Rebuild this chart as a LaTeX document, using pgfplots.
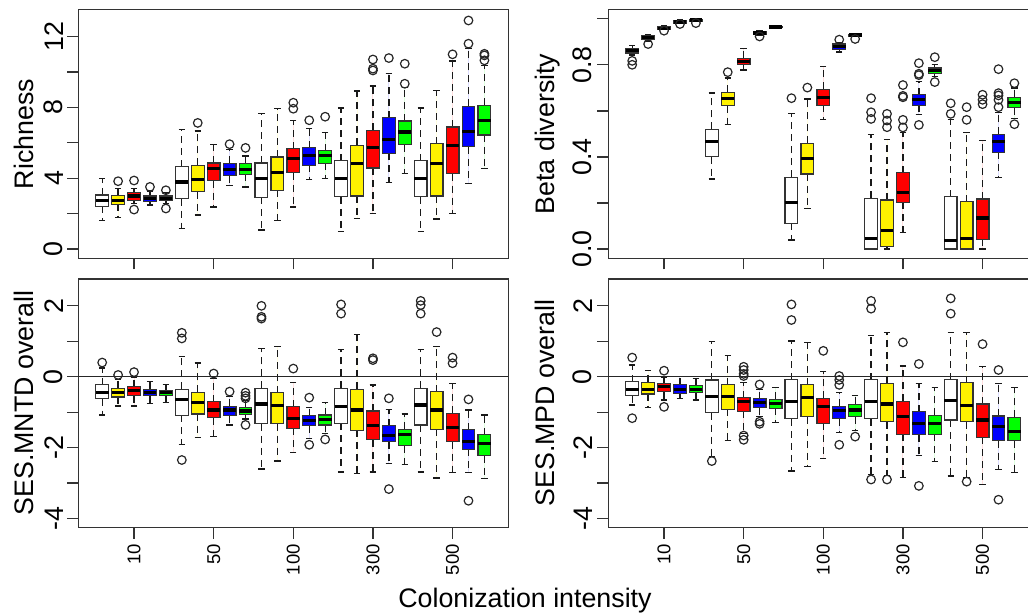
\documentclass[border=0pt]{standalone}
\usepackage{fontspec}
\setmainfont{Liberation Sans}
\usepackage{pgfplots}
\pgfplotsset{compat=1.18}
\usepgfplotslibrary{statistics}
\newcommand{\tlf}{\fontsize{18.5}{20}\selectfont}
\newcommand{\ylf}{\fontsize{26.8}{30}\selectfont}
\newcommand{\bx}[8]{\addplot[fill=#2, boxplot prepared={draw position=#1, lower whisker=#3, lower quartile=#4, median=#5, upper quartile=#6, upper whisker=#7}] coordinates {#8};}
\newcommand{\ylab}[3]{\node[rotate=90, anchor=south, inner sep=0pt, font=\ylf] at ([xshift=-#1]axis cs:-0.5,#2) {#3};}
\newcommand{\xlab}[3]{\node[rotate=90, anchor=east, inner sep=0pt, font=\tlf] at ([yshift=-16.3pt]axis cs:#1,#2) {#3};}
\pgfplotsset{
  panel/.style={
    scale only axis, width=430pt, height=248.8pt, anchor=south west,
    xmin=-0.5, xmax=26.5,
    axis line style={line width=1.3pt, black!80},
    tick style={line width=1.3pt, black!80},
    tick align=outside, major tick length=11pt,
    xtick={3,8,13,18,23}, xtick pos=left, ytick pos=left,
    xticklabels={}, yticklabels={},
    boxplot/draw direction=y,
    boxplot/box extend=0.8,
    boxplot/whisker extend=0.4,
    boxplot/every whisker/.style={draw=black!90, line width=1.3pt, dash pattern=on 7pt off 5pt},
    boxplot/every median/.style={draw=black, line width=3.2pt, solid},
    every axis plot/.append style={draw=black!80, line width=1.2pt, mark=o, mark size=4.3pt, mark options={solid, fill=none, draw=black!85, line width=1.2pt}},
    clip=false,
  },
}
\begin{document}
\begin{tikzpicture}
% ---------- Richness ----------
\begin{axis}[panel, at={(78.3pt,355.7pt)}, ymin=-0.52, ymax=13.52, ytick={0,2,...,12}]
\bx{1}{white}{1.6}{2.42}{2.74}{3.05}{4.0}{}
\bx{2}{yellow}{1.78}{2.52}{2.76}{3.02}{3.42}{(0,3.83)}
\bx{3}{red}{2.57}{2.76}{3.0}{3.19}{3.42}{(0,3.87) (0,2.23)}
\bx{4}{blue}{2.48}{2.7}{2.85}{2.99}{3.27}{(0,3.51)}
\bx{5}{green}{2.57}{2.72}{2.85}{2.99}{3.19}{(0,3.32) (0,2.29)}
\bx{6}{white}{1.16}{2.85}{3.79}{4.64}{6.74}{}
\bx{7}{yellow}{1.92}{3.23}{3.94}{4.73}{6.67}{(0,7.12)}
\bx{8}{red}{2.38}{3.87}{4.54}{4.86}{5.9}{}
\bx{9}{blue}{3.57}{4.13}{4.49}{4.83}{5.63}{(0,5.92)}
\bx{10}{green}{3.51}{4.23}{4.51}{4.83}{5.26}{(0,5.71)}
\bx{11}{white}{1.07}{2.93}{3.98}{4.86}{7.64}{}
\bx{12}{yellow}{1.63}{3.31}{4.32}{5.2}{7.92}{}
\bx{13}{red}{2.38}{4.3}{5.09}{5.67}{7.27}{(0,8.26) (0,7.92)}
\bx{14}{blue}{3.94}{4.73}{5.28}{5.71}{6.8}{(0,7.27)}
\bx{15}{green}{3.98}{4.85}{5.26}{5.56}{6.57}{(0,7.47)}
\bx{16}{white}{1.01}{2.95}{3.98}{4.98}{7.96}{}
\bx{17}{yellow}{1.73}{3.0}{4.83}{5.86}{8.92}{}
\bx{18}{red}{2.01}{4.58}{5.71}{6.7}{9.2}{(0,10.7) (0,10.18) (0,10.08)}
\bx{19}{blue}{3.74}{5.41}{6.2}{7.42}{9.9}{(0,10.78)}
\bx{20}{green}{4.26}{5.88}{6.61}{7.23}{9.11}{(0,10.46) (0,9.33)}
\bx{21}{white}{1.01}{2.95}{3.98}{4.98}{7.96}{}
\bx{22}{yellow}{1.69}{3.0}{4.83}{5.95}{8.96}{}
\bx{23}{red}{2.01}{4.26}{5.86}{6.89}{10.61}{(0,10.99)}
\bx{24}{blue}{3.7}{5.77}{6.65}{8.06}{11.3}{(0,12.9) (0,11.59)}
\bx{25}{green}{4.54}{6.44}{7.27}{8.11}{10.37}{(0,11.02) (0,10.93) (0,10.65)}
\ylab{15pt}{0}{0}\ylab{15pt}{4}{4}\ylab{15pt}{8}{8}\ylab{15pt}{12}{12}
\end{axis}
% ---------- Beta diversity ----------
\begin{axis}[panel, at={(608.3pt,355.7pt)}, ymin=-0.04, ymax=1.04, ytick={0,0.2,0.4,0.6,0.8,1.0}]
\bx{1}{white}{0.843}{0.851}{0.861}{0.870}{0.884}{(0,0.817) (0,0.80)}
\bx{2}{yellow}{0.903}{0.909}{0.917}{0.926}{0.932}{(0,0.89)}
\bx{3}{red}{0.952}{0.954}{0.959}{0.967}{0.970}{(0,0.948)}
\bx{4}{blue}{0.979}{0.981}{0.986}{0.991}{0.994}{(0,0.977)}
\bx{5}{green}{0.988}{0.99}{0.994}{0.998}{1.0}{(0,0.981)}
\bx{6}{white}{0.304}{0.401}{0.467}{0.52}{0.677}{}
\bx{7}{yellow}{0.542}{0.623}{0.652}{0.68}{0.742}{(0,0.768)}
\bx{8}{red}{0.778}{0.8}{0.814}{0.828}{0.87}{}
\bx{9}{blue}{0.929}{0.931}{0.938}{0.945}{0.948}{(0,0.923)}
\bx{10}{green}{0.962}{0.962}{0.964}{0.966}{0.966}{}
\bx{11}{white}{0.039}{0.112}{0.203}{0.312}{0.59}{(0,0.655)}
\bx{12}{yellow}{0.177}{0.326}{0.393}{0.459}{0.651}{(0,0.701)}
\bx{13}{red}{0.564}{0.625}{0.659}{0.694}{0.793}{}
\bx{14}{blue}{0.855}{0.868}{0.88}{0.89}{0.895}{(0,0.909)}
\bx{15}{green}{0.922}{0.925}{0.929}{0.933}{0.935}{(0,0.912)}
\bx{16}{white}{0}{0}{0.046}{0.22}{0.496}{(0,0.655) (0,0.594) (0,0.565)}
\bx{17}{yellow}{0}{0.01}{0.08}{0.213}{0.477}{(0,0.587) (0,0.558) (0,0.529)}
\bx{18}{red}{0.072}{0.203}{0.246}{0.332}{0.506}{(0,0.712) (0,0.665) (0,0.659) (0,0.561) (0,0.528)}
\bx{19}{blue}{0.583}{0.625}{0.648}{0.67}{0.728}{(0,0.807) (0,0.761) (0,0.755) (0,0.539)}
\bx{20}{green}{0.749}{0.761}{0.774}{0.786}{0.8}{(0,0.833) (0,0.725)}
\bx{21}{white}{0}{0}{0.036}{0.228}{0.564}{(0,0.633) (0,0.587)}
\bx{22}{yellow}{0}{0}{0.045}{0.206}{0.506}{(0,0.616) (0,0.561)}
\bx{23}{red}{0}{0.042}{0.135}{0.217}{0.471}{(0,0.67) (0,0.648) (0,0.629)}
\bx{24}{blue}{0.312}{0.42}{0.467}{0.499}{0.593}{(0,0.781) (0,0.677) (0,0.667) (0,0.648) (0,0.616)}
\bx{25}{green}{0.568}{0.614}{0.636}{0.658}{0.699}{(0,0.72) (0,0.542)}
\ylab{16pt}{0}{0.0}\ylab{16pt}{0.4}{0.4}\ylab{16pt}{0.8}{0.8}
\end{axis}
% ---------- SES.MNTD ----------
\begin{axis}[panel, at={(78.3pt,86.3pt)}, ymin=-4.26, ymax=2.76, ytick={-4,-3,...,2}]
\bx{1}{white}{-1.08}{-0.62}{-0.44}{-0.23}{0.25}{(0,0.40)}
\bx{2}{yellow}{-0.83}{-0.57}{-0.45}{-0.33}{-0.08}{(0,0.05)}
\bx{3}{red}{-0.83}{-0.53}{-0.38}{-0.28}{-0.02}{(0,0.13)}
\bx{4}{blue}{-0.75}{-0.54}{-0.45}{-0.36}{-0.14}{}
\bx{5}{green}{-0.73}{-0.54}{-0.45}{-0.38}{-0.22}{}
\bx{6}{white}{-1.92}{-1.09}{-0.64}{-0.35}{0.58}{(0,1.24) (0,1.08) (0,-2.35)}
\bx{7}{yellow}{-1.71}{-1.05}{-0.73}{-0.44}{0.39}{}
\bx{8}{red}{-1.69}{-1.16}{-0.94}{-0.70}{-0.05}{(0,0.09)}
\bx{9}{blue}{-1.36}{-1.10}{-0.94}{-0.83}{-0.56}{(0,-0.42)}
\bx{10}{green}{-1.19}{-1.06}{-0.97}{-0.86}{-0.68}{(0,-0.45) (0,-0.54) (0,-0.61) (0,-1.36)}
\bx{11}{white}{-2.6}{-1.33}{-0.77}{-0.33}{0.8}{(0,2.0) (0,1.69) (0,1.64)}
\bx{12}{yellow}{-2.38}{-1.32}{-0.82}{-0.45}{0.85}{}
\bx{13}{red}{-2.14}{-1.46}{-1.17}{-0.85}{-0.16}{(0,0.23)}
\bx{14}{blue}{-1.74}{-1.38}{-1.24}{-1.10}{-0.87}{(0,-0.59) (0,-1.92)}
\bx{15}{green}{-1.6}{-1.36}{-1.2}{-1.08}{-0.73}{(0,-1.77)}
\bx{16}{white}{-2.69}{-1.31}{-0.83}{-0.33}{0.77}{(0,2.04) (0,1.78)}
\bx{17}{yellow}{-2.74}{-1.51}{-0.94}{-0.35}{1.19}{}
\bx{18}{red}{-2.69}{-1.78}{-1.38}{-0.97}{-0.23}{(0,0.52) (0,0.47)}
\bx{19}{blue}{-2.44}{-1.83}{-1.66}{-1.38}{-0.92}{(0,-0.61) (0,-3.17)}
\bx{20}{green}{-2.47}{-1.95}{-1.64}{-1.48}{-1.05}{}
\bx{21}{white}{-2.69}{-1.36}{-0.80}{-0.33}{0.77}{(0,2.14) (0,2.02) (0,1.78)}
\bx{22}{yellow}{-2.86}{-1.48}{-0.94}{-0.42}{0.86}{(0,1.26)}
\bx{23}{red}{-2.7}{-1.83}{-1.44}{-1.03}{-0.19}{(0,0.54) (0,0.38)}
\bx{24}{blue}{-2.7}{-2.05}{-1.83}{-1.5}{-0.94}{(0,-0.64) (0,-3.5)}
\bx{25}{green}{-2.88}{-2.23}{-1.88}{-1.64}{-1.08}{}
\addplot[black!85, line width=1.3pt, mark=none, forget plot] coordinates {(-0.5,0) (26.5,0)};
\ylab{15pt}{-4}{-4}\ylab{15pt}{-2}{-2}\ylab{15pt}{0}{0}\ylab{15pt}{2}{2}
\xlab{3}{-4.26}{10}\xlab{8}{-4.26}{50}\xlab{13}{-4.26}{100}\xlab{18}{-4.26}{300}\xlab{23}{-4.26}{500}
\end{axis}
% ---------- SES.MPD ----------
\begin{axis}[panel, at={(608.3pt,86.3pt)}, ymin=-4.26, ymax=2.76, ytick={-4,-3,...,2}]
\bx{1}{white}{-0.8}{-0.54}{-0.35}{-0.14}{0.33}{(0,0.54) (0,-1.17)}
\bx{2}{yellow}{-0.86}{-0.49}{-0.35}{-0.16}{0.17}{}
\bx{3}{red}{-0.66}{-0.42}{-0.28}{-0.19}{-0.02}{(0,0.17) (0,-0.85)}
\bx{4}{blue}{-0.61}{-0.47}{-0.35}{-0.23}{0.0}{}
\bx{5}{green}{-0.66}{-0.45}{-0.35}{-0.24}{-0.05}{}
\bx{6}{white}{-2.25}{-1.01}{-0.56}{-0.09}{1.0}{(0,-2.38)}
\bx{7}{yellow}{-1.8}{-0.92}{-0.56}{-0.23}{0.59}{}
\bx{8}{red}{-1.6}{-0.98}{-0.70}{-0.59}{-0.16}{(0,0.28) (0,0.19) (0,0.08) (0,0.02) (0,-1.66) (0,-1.78)}
\bx{9}{blue}{-1.13}{-0.87}{-0.73}{-0.62}{-0.36}{(0,-0.22) (0,-1.27) (0,-1.33)}
\bx{10}{green}{-1.3}{-0.89}{-0.75}{-0.64}{-0.3}{}
\bx{11}{white}{-2.66}{-1.19}{-0.69}{-0.08}{1.01}{(0,2.04) (0,1.6)}
\bx{12}{yellow}{-2.54}{-1.13}{-0.59}{-0.23}{0.96}{}
\bx{13}{red}{-2.3}{-1.31}{-0.85}{-0.61}{0.14}{(0,0.73)}
\bx{14}{blue}{-1.58}{-1.19}{-0.96}{-0.83}{-0.45}{(0,0.02) (0,-0.09) (0,-0.23) (0,-1.92)}
\bx{15}{green}{-1.52}{-1.13}{-0.94}{-0.78}{-0.52}{(0,-1.69)}
\bx{16}{white}{-2.75}{-1.19}{-0.69}{-0.08}{1.17}{(0,2.14) (0,1.92) (0,-2.9)}
\bx{17}{yellow}{-2.78}{-1.27}{-0.77}{-0.19}{1.24}{(0,-2.9)}
\bx{18}{red}{-2.84}{-1.62}{-1.13}{-0.69}{0.3}{(0,0.97)}
\bx{19}{blue}{-2.23}{-1.64}{-1.33}{-0.99}{-0.19}{(0,0.36) (0,-3.08)}
\bx{20}{green}{-2.39}{-1.62}{-1.31}{-1.09}{-0.31}{}
\bx{21}{white}{-2.8}{-1.22}{-0.66}{-0.08}{1.25}{(0,2.21) (0,1.78)}
\bx{22}{yellow}{-2.85}{-1.27}{-0.82}{-0.17}{1.25}{(0,-2.96)}
\bx{23}{red}{-3.05}{-1.71}{-1.22}{-0.77}{0.28}{(0,0.92)}
\bx{24}{blue}{-2.61}{-1.8}{-1.41}{-1.11}{-0.19}{(0,0.19) (0,-3.47)}
\bx{25}{green}{-2.7}{-1.8}{-1.55}{-1.15}{-0.3}{}
\addplot[black!85, line width=1.3pt, mark=none, forget plot] coordinates {(-0.5,0) (26.5,0)};
\ylab{16pt}{-4}{-4}\ylab{16pt}{-2}{-2}\ylab{16pt}{0}{0}\ylab{16pt}{2}{2}
\xlab{3}{-4.26}{10}\xlab{8}{-4.26}{50}\xlab{13}{-4.26}{100}\xlab{18}{-4.26}{300}\xlab{23}{-4.26}{500}
\end{axis}
% ---------- labels ----------
\begin{scope}[font=\fontsize{26.8}{30}\selectfont]
\node[rotate=90, anchor=base, inner sep=0pt] at (33pt,480pt) {Richness};
\node[rotate=90, anchor=base, inner sep=0pt] at (33pt,211pt) {SES.MNTD overall};
\node[rotate=90, anchor=base, inner sep=0pt] at (554.5pt,480pt) {Beta diversity};
\node[rotate=90, anchor=base, inner sep=0pt] at (554.5pt,211pt) {SES.MPD overall};
\node[anchor=base, inner sep=0pt] at (525pt,6.5pt) {Colonization intensity};
\end{scope}
\pgfresetboundingbox
\useasboundingbox (0,0) rectangle (1028pt,614pt);
\end{tikzpicture}
\end{document}
